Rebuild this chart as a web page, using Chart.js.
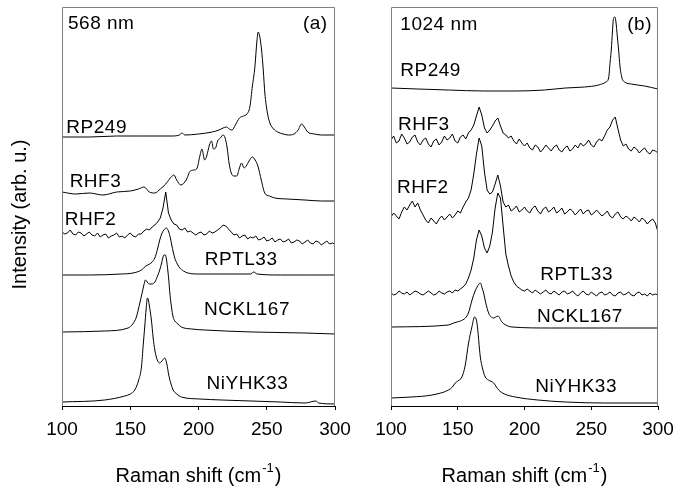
<!DOCTYPE html>
<html>
<head>
<meta charset="utf-8">
<title>Raman spectra</title>
<script src="https://cdn.jsdelivr.net/npm/chart.js@4.4.1/dist/chart.umd.min.js"></script>
<style>
  html, body { margin: 0; padding: 0; background: #fff; }
  #wrap { position: relative; width: 690px; height: 489px; }
  #wrap canvas { position: absolute; left: 0; top: 0; }
</style>
</head>
<body>
<div id="wrap">
  <canvas id="panelA" width="690" height="489"></canvas>
  <canvas id="panelB" width="690" height="489"></canvas>
</div>
<script>
// Raman shift ticks (cm-1)
const shiftTicks = [100, 150, 200, 250, 300];

// common 2 cm-1 grid used by the noisy spectra
const shiftGrid = [
  100, 102, 104, 106, 108, 110, 112, 114, 116, 118,
  120, 122, 124, 126, 128, 130, 132, 134, 136, 138,
  140, 142, 144, 146, 148, 150, 152, 154, 156, 158,
  160, 162, 164, 166, 168, 170, 172, 174, 176, 178,
  180, 182, 184, 186, 188, 190, 192, 194, 196, 198,
  200, 202, 204, 206, 208, 210, 212, 214, 216, 218,
  220, 222, 224, 226, 228, 230, 232, 234, 236, 238,
  240, 242, 244, 246, 248, 250, 252, 254, 256, 258,
  260, 262, 264, 266, 268, 270, 272, 274, 276, 278,
  280, 282, 284, 286, 288, 290, 292, 294, 296, 298,
  300
];

// ---- 568 nm excitation (stacked intensities, arb. u.) ----
const rp249aShift = [100, 120, 140, 160, 180, 186, 188, 190, 200, 210, 215, 218, 220.5, 222.5, 224.5, 227, 230, 233, 235.5, 237.6,
  239.5, 241.3, 242.8, 243.7, 244.8, 246.2, 247.5, 248.6, 250.5, 252.3, 255, 258, 262, 266, 270, 273, 275.5, 277.5, 280, 285, 290, 300];
const rp249aInt = [269, 269, 270, 270, 270, 271, 273, 271, 272, 274, 276, 278, 279, 277, 276, 281, 288, 290, 292, 299,
  320, 339, 365, 374, 370, 356, 335, 313, 293, 283, 277, 274, 272, 271, 272, 276, 282, 279, 274, 272, 271, 271];

const rhf3aShift = [100, 110, 120, 130, 140, 150, 156, 160, 164, 168, 172, 176, 180, 182, 184, 187, 191, 194, 197, 199,
  201, 202.5, 204.5, 206, 208, 209.5, 211, 212.5, 214, 216, 218, 219.5, 221, 222.5, 224, 226, 228, 230, 231.5, 233.5,
  235, 237, 239.5, 241.5, 243.5, 246, 248.5, 252, 256, 265, 278, 290, 300];
const rhf3aInt = [214, 212, 213, 211, 214, 215, 217, 219, 214, 213, 217, 222, 229, 231, 226, 221, 226, 235, 236, 238,
  250, 257, 246, 250, 261, 265, 257, 258, 265, 268, 271, 268, 258, 242, 233, 230, 230, 238, 243, 238,
  240, 245, 249, 246, 240, 226, 213, 210, 208, 207, 206, 205, 205];

const rhf2aInt = [
  174, 172, 173, 176, 172, 171, 174, 173, 170, 172,
  174, 171, 170, 173, 169, 171, 172, 168, 170, 171,
  173, 169, 170, 168, 171, 173, 170, 169, 172, 172,
  175, 177, 176, 179, 181, 184, 188, 198, 214, 193,
  186, 182, 181, 177, 176, 178, 174, 175, 173, 171,
  173, 174, 171, 172, 175, 173, 174, 176, 178, 181,
  180, 177, 174, 171, 172, 168, 170, 171, 167, 169,
  168, 170, 166, 167, 169, 165, 166, 168, 164, 166,
  167, 164, 165, 167, 163, 164, 166, 165, 162, 164,
  166, 163, 162, 165, 164, 161, 163, 165, 162, 163,
  162
];

const rptl33aShift = [100, 120, 143.5, 152, 158.2, 161.4, 164.3, 166, 168, 170, 171.6, 173, 174.6, 176.5, 178.2, 179.4, 180.4, 181.5, 182.6, 184.5,
  186.3, 189, 192.2, 200, 217, 238, 240.5, 243, 260, 278, 300];
const rptl33aInt = [131, 131, 132, 133, 136, 140, 142, 144, 148, 157, 166, 172, 176, 178, 174, 168, 161, 154, 148, 142,
  138, 135, 133, 132, 132, 132, 134, 132, 131, 131, 131];

const nckl167aShift = [100, 131.3, 148.4, 151.8, 154.5, 157, 158.7, 160, 161.1, 162, 162.8, 164.3, 166, 168, 170, 171.6, 173, 173.8, 174.8, 175.7,
  176.6, 177.5, 178.3, 179, 180.2, 181.4, 182.7, 184.1, 187.5, 195, 204.6, 240, 278, 300];
const nckl167aInt = [74, 75, 78, 82, 89, 103, 113, 121, 126, 125, 123, 122, 122, 124, 130, 136, 143, 148, 151, 151,
  146, 136, 125, 113, 99, 89, 85, 83, 79, 77, 76, 74, 73, 72];

const niyhk33aShift = [100, 131.3, 146, 150, 153.3, 156.2, 158.2, 159.5, 160.6, 161.7, 162.6, 163.3, 163.9, 165.5, 166.8, 168, 169.8, 171.6, 173.8, 175.3,
  176.8, 178.2, 180.1, 181.4, 184.1, 187.5, 201, 216.9, 260, 278, 286, 288, 300];
const niyhk33aInt = [4, 6, 10, 12, 16, 26, 39, 61, 79, 98, 108, 106, 101, 86, 68, 56, 46, 43, 46, 48,
  42, 31, 21, 16, 12, 9, 7, 6, 4, 3, 5, 3, 2];

// ---- 1024 nm excitation ----
const rp249bShift = [100, 120, 143, 170, 193, 215, 230.6, 245, 255.5, 261, 263, 264.2, 265, 265.9, 266.7, 267.7, 268.5, 269.5, 270.5, 271.5,
  273, 275, 280, 290, 300];
const rp249bInt = [318, 317, 316, 315, 315, 316, 318, 319, 321, 324, 328, 345, 356, 375, 388, 389, 384, 370, 356, 340,
  328, 324, 322, 320, 317];

const rhf3bInt = [
  266, 270, 263, 265, 272, 268, 262, 264, 269, 271,
  264, 261, 266, 268, 262, 259, 265, 267, 261, 264,
  270, 266, 268, 272, 265, 263, 269, 271, 267, 273,
  276, 281, 290, 299, 291, 278, 273, 276, 280, 285,
  288, 280, 273, 271, 268, 270, 265, 262, 267, 263,
  260, 263, 258, 256, 261, 259, 254, 257, 261, 258,
  255, 259, 261, 256, 254, 258, 260, 255, 257, 261,
  258, 263, 260, 262, 266, 261, 259, 264, 267, 265,
  270, 276, 279, 286, 289, 277, 266, 260, 262, 257,
  255, 259, 257, 253, 256, 258, 254, 252, 256, 255,
  253
];

const rhf2bInt = [
  189, 193, 190, 187, 194, 199, 196, 201, 205, 199,
  203, 196, 191, 186, 183, 188, 185, 182, 187, 190,
  186, 189, 192, 188, 191, 195, 193, 199, 204, 208,
  216, 232, 252, 268, 260, 234, 216, 212, 214, 222,
  231, 220, 204, 199, 201, 195, 197, 200, 194, 196,
  199, 195, 193, 198, 200, 195, 192, 197, 199, 194,
  196, 199, 193, 195, 198, 192, 194, 197, 195, 191,
  194, 197, 192, 195, 196, 191, 193, 196, 193, 190,
  192, 195, 190, 188, 192, 194, 189, 187, 190, 188,
  185, 189, 187, 184, 188, 186, 182, 185, 187, 183,
  174
];

const rptl33bInt = [
  113, 111, 112, 115, 113, 112, 114, 111, 113, 115,
  114, 112, 111, 113, 115, 113, 111, 112, 115, 113,
  112, 114, 115, 113, 116, 115, 117, 119, 122, 128,
  136, 148, 166, 176, 170, 158, 153, 160, 174, 198,
  213, 208, 180, 152, 140, 130, 124, 120, 118, 116,
  115, 117, 115, 113, 116, 114, 112, 114, 116, 113,
  112, 115, 113, 111, 114, 115, 112, 113, 115, 112,
  110, 113, 115, 112, 111, 114, 112, 110, 113, 114,
  111, 112, 114, 111, 110, 113, 114, 111, 112, 114,
  111, 110, 113, 114, 111, 112, 110, 113, 111, 112,
  111
];

const nckl167bShift = [100, 143, 147, 149.4, 152, 155.7, 158, 160.7, 163, 164.5, 166.9, 168.5, 169.4, 171, 173.1, 175, 176.9, 178.5, 180.1, 183.1,
  186, 190.6, 220, 260, 300];
const nckl167bInt = [79, 81, 83, 84, 85, 88, 93, 106, 115, 119, 123, 117, 113, 103, 93, 89, 88, 89, 90, 84,
  81, 79, 78, 78, 78];

const niyhk33bShift = [100, 115, 130.7, 143.1, 146, 148.1, 150, 153.1, 155.5, 158.1, 160.6, 162.6, 164.4, 166.9, 168.5, 170.6, 173, 176.9, 179, 180.6,
  185, 193.1, 210, 230.6, 260, 300];
const niyhk33bInt = [8, 9, 11, 16, 19, 23, 25, 29, 40, 63, 79, 89, 83, 49, 38, 29, 26, 23, 19, 16,
  12, 9, 6, 4, 3, 3];

// text placed in data coordinates (left edge, baseline)
const notesA = [
  { text: '568 nm', x: 104.4, y: 377 },
  { text: '(a)', x: 276.5, y: 377 },
  { text: 'RP249', x: 103.2, y: 273 },
  { text: 'RHF3', x: 105.6, y: 219 },
  { text: 'RHF2', x: 102, y: 181 },
  { text: 'RPTL33', x: 204.6, y: 141 },
  { text: 'NCKL167', x: 204.1, y: 91 },
  { text: 'NiYHK33', x: 205.9, y: 17 }
];
const notesB = [
  { text: '1024 nm', x: 107, y: 376 },
  { text: '(b)', x: 277, y: 376 },
  { text: 'RP249', x: 107, y: 330 },
  { text: 'RHF3', x: 105.2, y: 276 },
  { text: 'RHF2', x: 104.5, y: 213 },
  { text: 'RPTL33', x: 211.8, y: 126 },
  { text: 'NCKL167', x: 209.4, y: 84 },
  { text: 'NiYHK33', x: 208.1, y: 14 }
];

const FONT = "'Liberation Sans', Arial, sans-serif";

function trace(xs, ys, smooth) {
  return {
    data: xs.map((x, i) => ({ x: x, y: ys[i] })),
    borderColor: '#000',
    borderWidth: 1,
    pointRadius: 0,
    fill: false,
    tension: 0,
    cubicInterpolationMode: smooth ? 'monotone' : 'default'
  };
}

// frame, trace names and axis titles
const panelDecor = {
  id: 'panelDecor',
  afterDraw(chart, args, opts) {
    const { ctx, chartArea: a } = chart;
    const xs = chart.scales.x, ys = chart.scales.y;
    ctx.save();
    ctx.strokeStyle = '#808080';
    ctx.lineWidth = 1;
    ctx.beginPath();
    ctx.moveTo(a.left + 0.5, a.bottom);
    ctx.lineTo(a.left + 0.5, a.top + 0.5);
    ctx.lineTo(a.right - 0.5, a.top + 0.5);
    ctx.lineTo(a.right - 0.5, a.bottom);
    ctx.stroke();

    ctx.fillStyle = '#000';
    ctx.textAlign = 'left';
    ctx.textBaseline = 'alphabetic';
    ctx.font = '19px ' + FONT;
    ctx.letterSpacing = '0.5px';
    opts.notes.forEach(n => {
      ctx.fillText(n.text, xs.getPixelForValue(n.x), ys.getPixelForValue(n.y));
    });
    ctx.letterSpacing = '0px';

    // x title with superscript -1
    const base = a.bottom + 76;
    const main = 'Raman shift (cm';
    ctx.font = '20px ' + FONT;
    const wMain = ctx.measureText(main).width;
    const wEnd = ctx.measureText(')').width;
    ctx.font = '13px ' + FONT;
    const wSup = ctx.measureText('-1').width;
    let left = (a.left + a.right) / 2 - (wMain + wSup + wEnd + 2) / 2;
    ctx.font = '20px ' + FONT;
    ctx.fillText(main, left, base);
    ctx.font = '13px ' + FONT;
    ctx.fillText('-1', left + wMain + 1, base - 10);
    ctx.font = '20px ' + FONT;
    ctx.fillText(')', left + wMain + wSup + 2, base);

    if (opts.yTitle) {
      ctx.translate(opts.yTitleX, (a.top + a.bottom) / 2 + 8);
      ctx.rotate(-Math.PI / 2);
      ctx.textAlign = 'center';
      ctx.textBaseline = 'middle';
      ctx.fillText(opts.yTitle, 0, 0);
    }
    ctx.restore();
  }
};

function makePanel(id, datasets, notes, padLeft, padRight, yTitle) {
  new Chart(document.getElementById(id), {
    type: 'line',
    data: { datasets: datasets },
    options: {
      responsive: false,
      animation: false,
      devicePixelRatio: 1,
      events: [],
      layout: { padding: { left: padLeft, right: padRight, top: 7, bottom: 0 } },
      scales: {
        x: {
          type: 'linear',
          min: 100,
          max: 300,
          afterBuildTicks: s => { s.ticks = shiftTicks.map(v => ({ value: v })); },
          afterFit: s => { s.height = 83; },
          ticks: { color: '#000', font: { family: FONT, size: 19 }, padding: 8, maxRotation: 0, autoSkip: false },
          grid: { display: true, drawOnChartArea: false, drawTicks: true, tickLength: 4, color: '#000' },
          border: { display: true, color: '#000', width: 1 }
        },
        y: { type: 'linear', min: 0, max: 399, display: false }
      },
      plugins: {
        legend: { display: false },
        tooltip: { enabled: false },
        panelDecor: { notes: notes, yTitle: yTitle, yTitleX: 20 }
      }
    },
    plugins: [panelDecor]
  });
}

makePanel('panelA', [
  trace(rp249aShift, rp249aInt, true),
  trace(rhf3aShift, rhf3aInt, true),
  trace(shiftGrid, rhf2aInt, false),
  trace(rptl33aShift, rptl33aInt, true),
  trace(nckl167aShift, nckl167aInt, true),
  trace(niyhk33aShift, niyhk33aInt, true)
], notesA, 62, 355, 'Intensity (arb. u.)');

makePanel('panelB', [
  trace(rp249bShift, rp249bInt, true),
  trace(shiftGrid, rhf3bInt, false),
  trace(shiftGrid, rhf2bInt, false),
  trace(shiftGrid, rptl33bInt, false),
  trace(nckl167bShift, nckl167bInt, true),
  trace(niyhk33bShift, niyhk33bInt, true)
], notesB, 391, 32, null);
</script>
</body>
</html>
